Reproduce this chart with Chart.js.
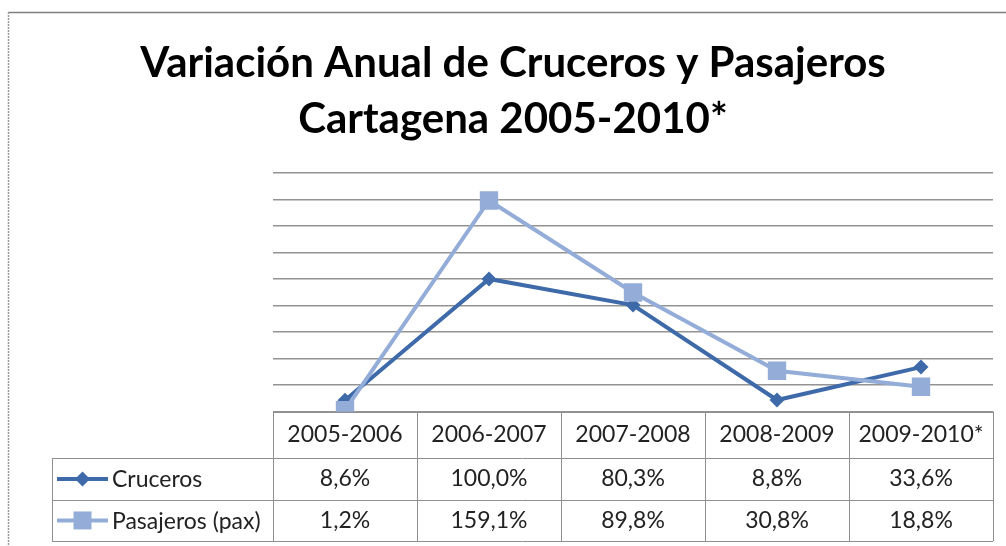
<!DOCTYPE html>
<html>
<head>
<meta charset="utf-8">
<script src="https://cdn.jsdelivr.net/npm/chart.js@4.4.1/dist/chart.umd.min.js"></script>
<style>
  html, body { margin: 0; padding: 0; background: #fff; }
  #wrap { width: 1006px; height: 546px; position: relative; }
</style>
</head>
<body>
<div id="wrap"><canvas id="c" width="1006" height="546"></canvas></div>
<script>
const categories = ['2005-2006', '2006-2007', '2007-2008', '2008-2009', '2009-2010*'];
const cruceros = [8.6, 100.0, 80.3, 8.8, 33.6];
const pasajeros = [1.2, 159.1, 89.8, 30.8, 18.8];
const seriesNames = ['Cruceros', 'Pasajeros (pax)'];
const titleLines = ['Variación Anual de Cruceros y Pasajeros', 'Cartagena 2005-2010*'];

const DARK = '#3e6aa9';
const LIGHT = '#93acd8';
const GRID = '#939393';
const TABLE_LINE = '#8f8f8f';
const TEXT = '#222';
const FONT = 'Lato, "Open Sans", sans-serif';

function fmt(v) { return v.toFixed(1).replace('.', ',') + '%'; }

function drawMarker(ctx, kind, x, y, color) {
  ctx.save();
  ctx.fillStyle = color;
  ctx.beginPath();
  if (kind === 'diamond') {
    const r = 7.5;
    ctx.moveTo(x, y - r); ctx.lineTo(x + r, y); ctx.lineTo(x, y + r); ctx.lineTo(x - r, y);
    ctx.closePath();
  } else {
    const s = 9;
    ctx.rect(x - s, y - s, 2 * s, 2 * s);
  }
  ctx.fill();
  ctx.restore();
}

const frame = {
  id: 'frame',
  beforeDraw(chart) {
    const ctx = chart.ctx;
    ctx.save();
    ctx.strokeStyle = '#7f7f7f';
    ctx.lineWidth = 1.5;
    ctx.beginPath();
    ctx.moveTo(8, 12.5); ctx.lineTo(1006, 12.5);
    ctx.stroke();
    ctx.setLineDash([2, 1]);
    ctx.strokeStyle = '#9a9a9a';
    ctx.lineWidth = 1.5;
    ctx.beginPath();
    ctx.moveTo(8.5, 12); ctx.lineTo(8.5, 546);
    ctx.stroke();
    ctx.restore();
  }
};

const dataTable = {
  id: 'dataTable',
  afterDraw(chart) {
    const ctx = chart.ctx;
    const xs = chart.scales.x;
    const area = chart.chartArea;
    const n = categories.length;
    const colW = (area.right - area.left) / n;
    const top = area.bottom;
    const headerH = 46.5;
    const rowH = 41.5;
    const tableLeft = 52;
    const rows = [top, top + headerH, top + headerH + rowH, top + headerH + 2 * rowH];
    ctx.save();
    ctx.strokeStyle = TABLE_LINE;
    ctx.lineWidth = 1;
    ctx.beginPath();
    ctx.moveTo(area.left, Math.round(rows[0]) + 0.5); ctx.lineTo(area.right, Math.round(rows[0]) + 0.5);
    for (let i = 1; i < rows.length; i++) {
      const y = Math.round(rows[i]) + 0.5;
      ctx.moveTo(tableLeft, y); ctx.lineTo(area.right, y);
    }
    for (let i = 0; i <= n; i++) {
      const x = Math.round(area.left + i * colW) + 0.5;
      ctx.moveTo(x, rows[0]); ctx.lineTo(x, rows[3]);
    }
    ctx.moveTo(tableLeft + 0.5, rows[1]); ctx.lineTo(tableLeft + 0.5, rows[3]);
    ctx.stroke();

    ctx.fillStyle = TEXT;
    ctx.font = '23px ' + FONT;
    ctx.textAlign = 'center';
    ctx.textBaseline = 'middle';
    const series = [cruceros, pasajeros];
    for (let i = 0; i < n; i++) {
      const cx = xs.getPixelForValue(i);
      ctx.fillText(categories[i], cx, (rows[0] + rows[1]) / 2);
      for (let s = 0; s < series.length; s++) {
        ctx.fillText(fmt(series[s][i]), cx, (rows[s + 1] + rows[s + 2]) / 2);
      }
    }
    const colors = [DARK, LIGHT];
    const kinds = ['diamond', 'square'];
    ctx.textAlign = 'left';
    for (let s = 0; s < 2; s++) {
      const cy = (rows[s + 1] + rows[s + 2]) / 2;
      ctx.strokeStyle = colors[s];
      ctx.lineWidth = 4;
      ctx.beginPath();
      ctx.moveTo(57, cy); ctx.lineTo(108, cy);
      ctx.stroke();
      drawMarker(ctx, kinds[s], 82.5, cy, colors[s]);
      ctx.fillStyle = TEXT;
      ctx.fillText(seriesNames[s], 112, cy + 1);
    }
    ctx.restore();
  }
};

new Chart(document.getElementById('c'), {
  type: 'line',
  data: {
    labels: categories,
    datasets: [
      {
        label: seriesNames[0],
        data: cruceros,
        borderColor: DARK,
        backgroundColor: DARK,
        borderWidth: 4,
        pointStyle: 'rectRot',
        pointRadius: 7.5,
        pointBorderWidth: 0,
        pointBackgroundColor: DARK,
        tension: 0,
        order: 1
      },
      {
        label: seriesNames[1],
        data: pasajeros,
        borderColor: LIGHT,
        backgroundColor: LIGHT,
        borderWidth: 4,
        pointStyle: 'rect',
        pointRadius: 13,
        pointBorderWidth: 0,
        pointBackgroundColor: LIGHT,
        tension: 0,
        order: 0
      }
    ]
  },
  options: {
    responsive: false,
    animation: false,
    devicePixelRatio: 1,
    layout: { padding: { left: 33, right: 13, top: 0, bottom: 134.3 } },
    plugins: {
      legend: { display: false },
      tooltip: { enabled: false },
      title: {
        display: true,
        text: titleLines,
        color: '#000',
        font: { family: FONT, size: 42, weight: 'bold', lineHeight: 56 / 42 },
        padding: { top: 35, bottom: 25.7 }
      }
    },
    scales: {
      x: {
        display: false,
        offset: true
      },
      y: {
        min: 0,
        max: 180,
        ticks: { display: false, stepSize: 20 },
        border: { display: false },
        grid: { color: GRID, lineWidth: 1.5, drawTicks: false },
        afterFit(scale) { scale.width = 240; }
      }
    }
  },
  plugins: [frame, dataTable]
});
</script>
</body>
</html>
